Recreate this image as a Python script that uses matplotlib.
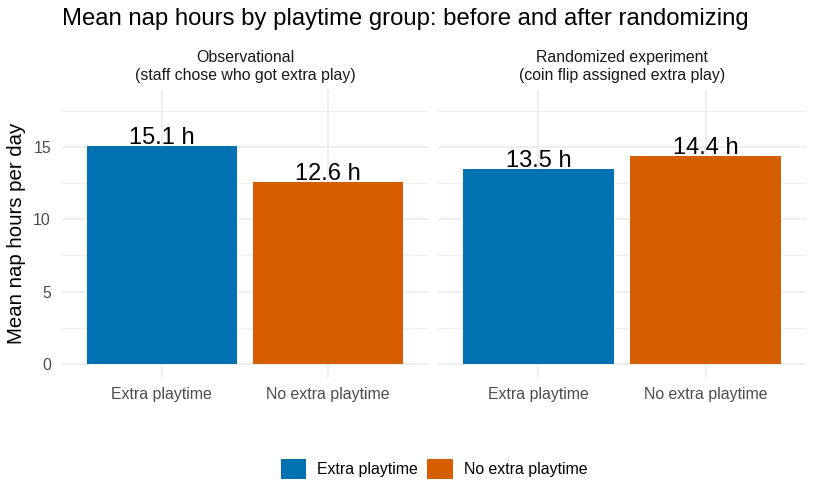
import matplotlib
matplotlib.use("Agg")
import matplotlib.pyplot as plt
from matplotlib.patches import Patch

plt.rcParams['font.family'] = ['Liberation Sans', 'DejaVu Sans']

panels = ["Observational\n(staff chose who got extra play)",
          "Randomized experiment\n(coin flip assigned extra play)"]
groups = ["Extra playtime", "No extra playtime"]
values = [[15.1, 12.6], [13.5, 14.4]]
colors = ["#0072B2", "#D55E00"]

W, H = 816, 504
fig = plt.figure(figsize=(W/100, H/100), dpi=100)

def fx(px): return px / W
def fy(py): return 1 - py / H

panel_x = [(62, 428), (438, 806)]
top, bot = 90, 377
grid_c = "#EBEBEB"

for i, (x0, x1) in enumerate(panel_x):
    ax = fig.add_axes([fx(x0), fy(bot), fx(x1) - fx(x0), fy(top) - fy(bot)])
    ax.set_xlim(0.4, 2.6)
    ax.set_ylim(-0.9, 18.94)
    for s in ax.spines.values():
        s.set_visible(False)
    for y in [2.5, 7.5, 12.5, 17.5]:
        ax.axhline(y, color=grid_c, lw=0.6, zorder=0)
    for y in [0, 5, 10, 15]:
        ax.axhline(y, color=grid_c, lw=1.2, zorder=0)
    for x in [1, 2]:
        ax.axvline(x, color=grid_c, lw=1.2, zorder=0)
    xs = [1, 2]
    ax.bar(xs, values[i], width=0.9, color=colors, zorder=2)
    for x, v in zip(xs, values[i]):
        ax.text(x, v + 0.12, f"{v:.1f} h", ha='center', va='baseline',
                fontsize=17, color='black', zorder=3)
    ax.set_xticks(xs)
    ax.set_xticklabels(groups, fontsize=11.4, color='#4D4D4D')
    ax.set_yticks([0, 5, 10, 15])
    if i == 0:
        ax.set_yticklabels(["0", "5", "10", "15"], fontsize=11.4, color='#4D4D4D')
        ax.set_ylabel("Mean nap hours per day", fontsize=14.7, color='black', labelpad=5)
    else:
        ax.set_yticklabels([])
    ax.tick_params(axis='x', length=0, pad=7)
    ax.tick_params(axis='y', length=0, pad=8)
    ax.set_title(panels[i], fontsize=11.4, color='#1A1A1A', pad=7, linespacing=1.25)

fig.text(fx(62), fy(19), "Mean nap hours by playtime group: before and after randomizing",
         ha='left', va='center', fontsize=17.2, color='black')

handles = [Patch(facecolor=c, edgecolor='none') for c in colors]
fig.legend(handles, groups, loc='center', bbox_to_anchor=(fx(434), fy(469)),
           ncol=2, frameon=False, fontsize=11.4, handlelength=1.6, handleheight=1.6,
           handletextpad=0.7, columnspacing=0.6)

fig.savefig("out.png", dpi=100)
